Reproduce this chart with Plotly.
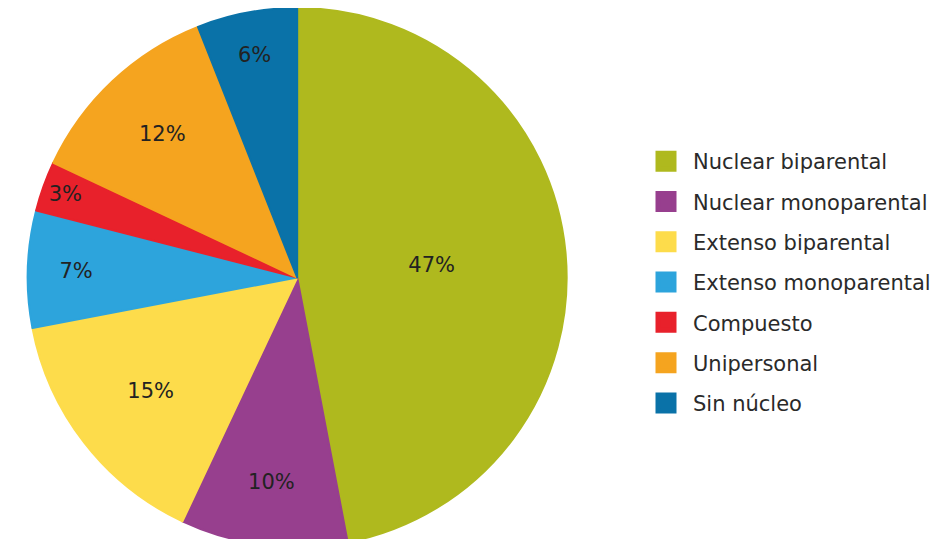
import plotly.graph_objects as go

categories = ["Nuclear biparental", "Nuclear monoparental", "Extenso biparental",
              "Extenso monoparental", "Compuesto", "Unipersonal", "Sin núcleo"]
values = [47, 10, 15, 7, 3, 12, 6]
colors = ["#AFB91E", "#973F8E", "#FDDC4B", "#2DA4DC", "#E8212B", "#F5A41F", "#0A72A8"]

fig = go.Figure()
fig.add_trace(go.Pie(
    labels=categories, values=values, sort=False, direction="clockwise", rotation=0,
    marker=dict(colors=colors, line=dict(color=colors, width=2)),
    texttemplate="%{value}%", textposition="inside", insidetextorientation="horizontal",
    textfont=dict(family="DejaVu Sans", size=21, color="#222222"),
    domain=dict(x=[0.015, 0.597], y=[0, 1]),
    showlegend=False, hoverinfo="label+percent",
))
for i, (c, col) in enumerate(zip(categories, colors)):
    fig.add_trace(go.Scatter(
        x=[None], y=[None], mode="markers", name=c, legendgroup=f"g{i}",
        marker=dict(symbol="square", size=16, color=col, line=dict(color=col, width=5)),
        showlegend=True,
    ))

fig.update_layout(
    width=945, height=539,
    margin=dict(l=0, r=0, t=0, b=0),
    paper_bgcolor="white", plot_bgcolor="white",
    xaxis=dict(visible=False), yaxis=dict(visible=False),
    legend=dict(
        x=631/945, xanchor="left", y=1 - 274.5/539, yanchor="middle",
        font=dict(family="DejaVu Sans", size=21, color="#2a2a2a"),
        itemwidth=44, tracegroupgap=10, bgcolor="rgba(0,0,0,0)",
    ),
)
fig.write_html("out.html")
